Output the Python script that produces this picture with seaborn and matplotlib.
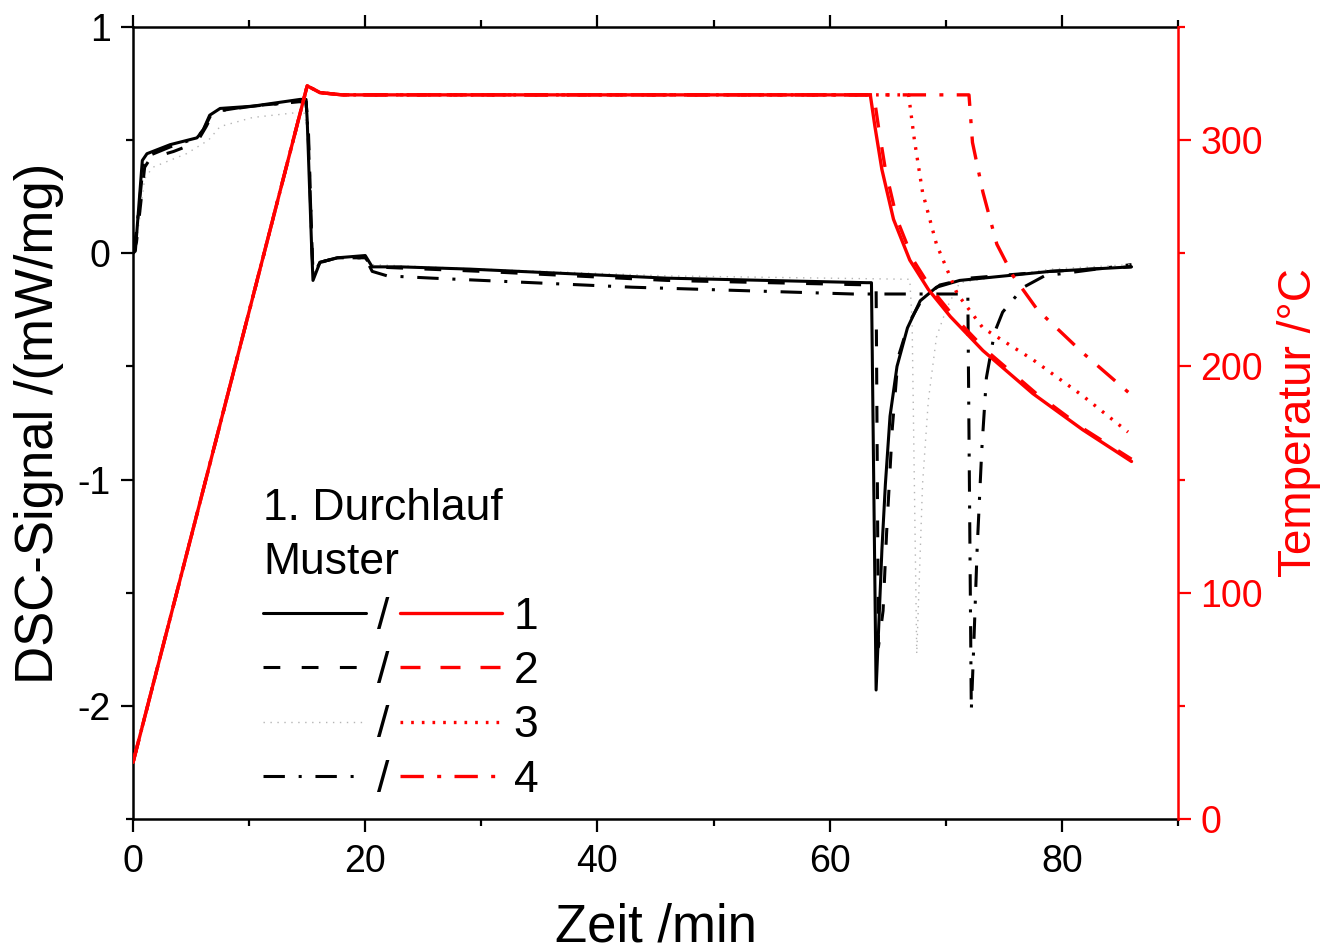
import numpy as np
import pandas as pd
import matplotlib
matplotlib.use("Agg")
import matplotlib.pyplot as plt
from matplotlib.ticker import MultipleLocator
from matplotlib.lines import Line2D
import seaborn as sns

# ---------------- data ----------------
# DSC signal, run 1 (solid)
t_dsc1 = [0, 0.2, 0.8, 1.2, 3.2, 5.5, 6.0, 6.6, 7.5, 10.3, 14.4, 14.9, 15.0, 15.4, 15.5, 16.1,
          17.6, 20.0, 20.6, 23, 29, 46, 63.2, 63.6, 64.0, 64.5, 64.8, 65.2, 65.8, 66.7, 67.8,
          69.2, 71.2, 79, 86]
y_dsc1 = [0, 0.01, 0.41, 0.44, 0.48, 0.51, 0.54, 0.61, 0.64, 0.65, 0.68, 0.68, 0.59, 0.0, -0.12,
          -0.04, -0.02, -0.01, -0.06, -0.06, -0.07, -0.11, -0.13, -0.13, -1.93, -1.31, -1.02,
          -0.72, -0.50, -0.33, -0.21, -0.15, -0.12, -0.08, -0.06]
# run 2 (dashed)
t_dsc2 = [0, 0.3, 1.0, 1.5, 3.5, 5.5, 6.3, 6.8, 7.5, 10, 14.5, 14.9, 15.1, 15.5, 16.1, 17.6,
          20.0, 20.6, 30, 46, 63.5, 64.0, 64.2, 64.6, 64.9, 65.4, 65.9, 66.8, 68.0, 69.5, 72,
          79, 86]
y_dsc2 = [0, 0.05, 0.38, 0.42, 0.45, 0.49, 0.56, 0.61, 0.63, 0.65, 0.67, 0.67, 0.55, -0.10,
          -0.04, -0.02, -0.02, -0.06, -0.08, -0.12, -0.14, -0.14, -1.74, -1.58, -1.24, -0.77,
          -0.46, -0.31, -0.20, -0.14, -0.11, -0.08, -0.06]
# run 3 (dotted, grey)
t_dsc3 = [0, 0.3, 1.0, 1.7, 4.6, 6.5, 7.5, 10.3, 13.8, 14.7, 15.0, 15.5, 16.0, 17.6, 20.0,
          20.6, 30, 46, 66.9, 67.1, 67.5, 68.0, 68.5, 69.2, 70.1, 71.2, 79, 86]
y_dsc3 = [0, 0.05, 0.33, 0.38, 0.44, 0.50, 0.56, 0.60, 0.62, 0.63, 0.55, -0.10, -0.05, -0.02,
          -0.01, -0.05, -0.07, -0.10, -0.115, -0.30, -1.77, -1.02, -0.65, -0.37, -0.24, -0.13,
          -0.07, -0.05]
# run 4 (dash-dot)
t_dsc4 = [0, 0.3, 0.9, 1.3, 3.2, 5.5, 6.1, 6.7, 7.5, 10.3, 14.4, 14.9, 15.1, 15.5, 16.1, 17.6,
          20.0, 20.6, 21.9, 25.8, 43, 62, 71.9, 72.2, 72.4, 72.7, 73.1, 73.5, 74.2, 74.9, 76.7,
          78.5, 86]
y_dsc4 = [0, 0.10, 0.40, 0.43, 0.47, 0.51, 0.55, 0.61, 0.63, 0.65, 0.67, 0.67, 0.50, -0.10,
          -0.04, -0.02, -0.02, -0.08, -0.10, -0.11, -0.15, -0.18, -0.18, -2.02, -1.75, -1.31,
          -0.87, -0.55, -0.35, -0.26, -0.15, -0.10, -0.05]

# Temperature curves
t_T1 = [0, 15.0, 16.1, 18, 63.5, 63.9, 64.5, 65.5, 66.9, 68.5, 70.4, 73.2, 77.5, 81.8, 86]
T_1 = [25, 324, 321, 320, 320, 306, 287, 265, 247, 234, 222, 207, 188, 172, 158]
t_T2 = [0, 15.0, 16.1, 18, 63.8, 64.2, 64.8, 65.8, 67.2, 68.8, 70.7, 73.5, 77.8, 82.0, 86]
T_2 = [25, 324, 321, 320, 320, 306, 287, 265, 247, 234, 222, 207, 188, 172, 159]
t_T3 = [0, 15.0, 16.1, 18, 66.8, 67.3, 68.0, 69.2, 71.0, 73.2, 77.5, 81.8, 85.7]
T_3 = [25, 324, 321, 320, 320, 300, 277, 254, 232, 217, 203, 187, 171]
t_T4 = [0, 15.0, 16.1, 18, 72.0, 72.3, 73.2, 74.4, 75.8, 77.9, 81.8, 86.3]
T_4 = [25, 324, 321, 320, 320, 299, 277, 254, 240, 225, 206, 186]

legend_title = "1. Durchlauf\nMuster"
run_labels = ["1", "2", "3", "4"]

# ---------------- styling ----------------
sns.set_theme(style="ticks")
plt.rcParams["font.family"] = ["Liberation Sans", "DejaVu Sans"]
plt.rcParams["axes.linewidth"] = 1.8
plt.rcParams["axes.unicode_minus"] = False
plt.rcParams["text.color"] = "black"
plt.rcParams["axes.labelcolor"] = "black"
plt.rcParams["xtick.color"] = "black"
plt.rcParams["ytick.color"] = "black"
plt.rcParams["axes.edgecolor"] = "black"

RED = "#ff0000"
fig = plt.figure(figsize=(13.33, 9.5), dpi=100)
ax = fig.add_axes([0.0998, 0.1379, 0.7839, 0.8337])
ax2 = ax.twinx()

styles_black = [
    dict(color="black", lw=2.2, linestyle="-"),
    dict(color="black", lw=2.2, linestyle=(0, (5.5, 7))),
    dict(color="#b5b5b5", lw=1.0, linestyle=(0, (1, 4))),
    dict(color="black", lw=2.2, linestyle=(0, (7, 4.5, 1, 4.5))),
]
styles_red = [
    dict(color=RED, lw=2.4, linestyle="-"),
    dict(color=RED, lw=2.4, linestyle=(0, (6, 6))),
    dict(color=RED, lw=2.4, linestyle=(0, (0.8, 2.4))),
    dict(color=RED, lw=2.4, linestyle=(0, (7, 4, 1.2, 4))),
]

dsc = [(t_dsc1, y_dsc1), (t_dsc2, y_dsc2), (t_dsc3, y_dsc3), (t_dsc4, y_dsc4)]
temps = [(t_T1, T_1), (t_T2, T_2), (t_T3, T_3), (t_T4, T_4)]

# draw in reverse so run 1 is on top
for (tx, yy), st in list(zip(dsc, styles_black))[::-1]:
    sns.lineplot(x=tx, y=yy, ax=ax, sort=False, estimator=None, **st)
for (tx, yy), st in list(zip(temps, styles_red))[::-1]:
    sns.lineplot(x=tx, y=yy, ax=ax2, sort=False, estimator=None, **st)

# axes limits & ticks
ax.set_xlim(0, 90)
ax.set_ylim(-2.5, 1)
ax2.set_ylim(0, 350)
ax.xaxis.set_major_locator(MultipleLocator(20))
ax.xaxis.set_minor_locator(MultipleLocator(10))
ax.yaxis.set_major_locator(MultipleLocator(1))
ax.yaxis.set_minor_locator(MultipleLocator(0.5))
ax2.yaxis.set_major_locator(MultipleLocator(100))
ax2.yaxis.set_minor_locator(MultipleLocator(50))

ax.tick_params(axis="both", which="major", direction="out", length=9, width=1.6,
               labelsize=27, pad=7, colors="black")
ax.tick_params(axis="both", which="minor", direction="out", length=5, width=1.6,
               colors="black")
ax.tick_params(axis="x", which="both", top=True, labeltop=False)
ax.tick_params(axis="y", which="both", right=False)
ax.tick_params(axis="x", which="major", pad=9)
ax2.tick_params(axis="y", which="major", direction="out", length=9, width=1.6,
                labelsize=27, pad=7, colors=RED)
ax2.tick_params(axis="y", which="minor", direction="out", length=5, width=1.6, colors=RED)

ax.spines["right"].set_visible(False)
for s in ["left", "top", "bottom"]:
    ax2.spines[s].set_visible(False)
ax2.spines["right"].set_color(RED)
ax2.spines["right"].set_linewidth(1.8)

ax.set_xlabel("Zeit /min", fontsize=38, labelpad=16, color="black")
ax.set_ylabel("DSC-Signal /(mW/mg)", fontsize=38, labelpad=10, color="black")
ax2.set_ylabel("Temperatur /°C", fontsize=33, color=RED, labelpad=10)

# legend: black handle "/" red handle number
handles = [Line2D([], [], **st) for st in styles_black] + [Line2D([], [], **st) for st in styles_red]
labels = ["/"] * 4 + run_labels
leg = ax2.legend(handles, labels, ncol=2, title=legend_title, loc="lower left",
                 bbox_to_anchor=(0.095, -0.016), frameon=False, fontsize=32,
                 title_fontproperties={"size": 32}, handlelength=2.3, handletextpad=0.25,
                 columnspacing=0.25, labelspacing=0.3, borderpad=0.2,
                 alignment="left")
leg.get_title().set_linespacing(1.4)
leg.get_title().set_color("black")
for txt in leg.get_texts():
    txt.set_color("black")

fig.savefig("out.png", dpi=100)
